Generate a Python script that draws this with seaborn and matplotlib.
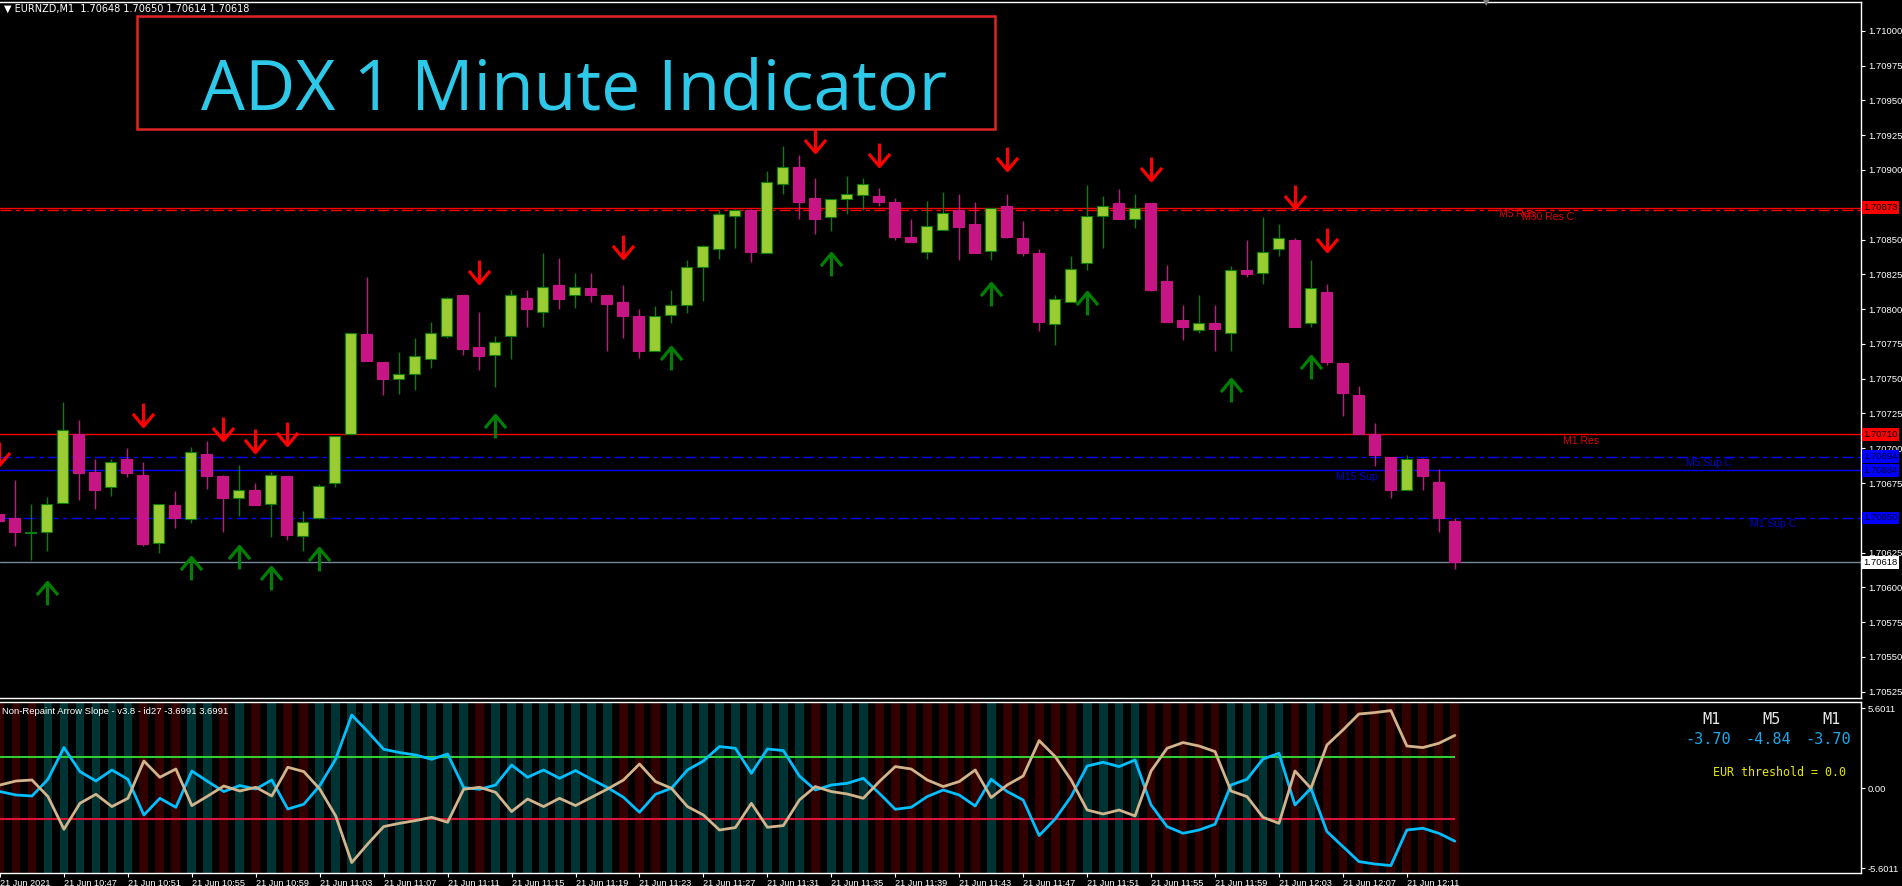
import numpy as np
import pandas as pd
import matplotlib
matplotlib.use('Agg')
import matplotlib.pyplot as plt
import matplotlib.transforms as mtransforms
from matplotlib.path import Path
from matplotlib.patches import Rectangle
import seaborn as sns

# EURNZD M1 candles, 21 Jun 2021 10:43 -> 12:14
opens = [1.70653, 1.70650, 1.70639, 1.70640, 1.70661, 1.70710, 1.70683, 1.70672, 1.70692, 1.70681,
         1.70632, 1.70659, 1.70649, 1.70696, 1.70680, 1.70664, 1.70670, 1.70660, 1.70680, 1.70637,
         1.70650, 1.70675, 1.70710, 1.70782, 1.70762, 1.70750, 1.70753, 1.70764, 1.70781, 1.70810,
         1.70773, 1.70767, 1.70781, 1.70808, 1.70798, 1.70817, 1.70810, 1.70815, 1.70810, 1.70805,
         1.70795, 1.70770, 1.70796, 1.70803, 1.70830, 1.70843, 1.70867, 1.70871, 1.70840, 1.70890,
         1.70902, 1.70880, 1.70866, 1.70879, 1.70882, 1.70881, 1.70877, 1.70852, 1.70841, 1.70857,
         1.70871, 1.70861, 1.70842, 1.70874, 1.70851, 1.70840, 1.70789, 1.70805, 1.70833, 1.70867,
         1.70876, 1.70865, 1.70876, 1.70820, 1.70792, 1.70785, 1.70790, 1.70783, 1.70828, 1.70826,
         1.70843, 1.70850, 1.70790, 1.70812, 1.70761, 1.70738, 1.70710, 1.70694, 1.70670, 1.70692,
         1.70676, 1.70648]
highs = [1.70654, 1.70677, 1.70660, 1.70665, 1.70733, 1.70720, 1.70692, 1.70692, 1.70700, 1.70690,
         1.70660, 1.70669, 1.70701, 1.70705, 1.70681, 1.70688, 1.70675, 1.70683, 1.70680, 1.70655,
         1.70674, 1.70709, 1.70783, 1.70823, 1.70762, 1.70769, 1.70779, 1.70791, 1.70809, 1.70810,
         1.70798, 1.70781, 1.70814, 1.70814, 1.70840, 1.70837, 1.70826, 1.70826, 1.70810, 1.70817,
         1.70800, 1.70802, 1.70814, 1.70835, 1.70846, 1.70871, 1.70872, 1.70872, 1.70899, 1.70917,
         1.70911, 1.70894, 1.70879, 1.70896, 1.70894, 1.70887, 1.70880, 1.70865, 1.70878, 1.70884,
         1.70883, 1.70877, 1.70873, 1.70883, 1.70863, 1.70843, 1.70810, 1.70838, 1.70889, 1.70881,
         1.70886, 1.70883, 1.70876, 1.70832, 1.70803, 1.70810, 1.70803, 1.70831, 1.70850, 1.70866,
         1.70861, 1.70851, 1.70835, 1.70818, 1.70761, 1.70745, 1.70718, 1.70694, 1.70695, 1.70693,
         1.70685, 1.70650]
lows = [1.70646, 1.70630, 1.70620, 1.70626, 1.70661, 1.70663, 1.70656, 1.70666, 1.70679, 1.70630,
        1.70625, 1.70643, 1.70646, 1.70671, 1.70640, 1.70651, 1.70659, 1.70636, 1.70634, 1.70626,
        1.70649, 1.70672, 1.70710, 1.70763, 1.70738, 1.70739, 1.70742, 1.70758, 1.70779, 1.70767,
        1.70756, 1.70744, 1.70764, 1.70787, 1.70787, 1.70800, 1.70801, 1.70805, 1.70770, 1.70779,
        1.70765, 1.70770, 1.70790, 1.70797, 1.70806, 1.70836, 1.70844, 1.70834, 1.70840, 1.70883,
        1.70865, 1.70854, 1.70856, 1.70868, 1.70871, 1.70874, 1.70850, 1.70848, 1.70836, 1.70857,
        1.70835, 1.70840, 1.70835, 1.70851, 1.70838, 1.70784, 1.70774, 1.70805, 1.70828, 1.70844,
        1.70865, 1.70858, 1.70813, 1.70791, 1.70778, 1.70783, 1.70770, 1.70770, 1.70823, 1.70818,
        1.70838, 1.70787, 1.70787, 1.70760, 1.70723, 1.70710, 1.70687, 1.70664, 1.70670, 1.70670,
        1.70640, 1.70613]
closes = [1.70648, 1.70640, 1.70640, 1.70660, 1.70713, 1.70682, 1.70670, 1.70690, 1.70682, 1.70631,
          1.70660, 1.70650, 1.70697, 1.70680, 1.70664, 1.70670, 1.70659, 1.70681, 1.70638, 1.70647,
          1.70673, 1.70709, 1.70783, 1.70763, 1.70750, 1.70753, 1.70766, 1.70783, 1.70808, 1.70771,
          1.70766, 1.70776, 1.70810, 1.70800, 1.70816, 1.70807, 1.70816, 1.70810, 1.70804, 1.70795,
          1.70770, 1.70795, 1.70803, 1.70830, 1.70845, 1.70868, 1.70871, 1.70841, 1.70891, 1.70902,
          1.70877, 1.70865, 1.70879, 1.70883, 1.70890, 1.70877, 1.70852, 1.70848, 1.70860, 1.70869,
          1.70859, 1.70840, 1.70873, 1.70852, 1.70840, 1.70791, 1.70807, 1.70829, 1.70867, 1.70874,
          1.70865, 1.70873, 1.70814, 1.70791, 1.70787, 1.70790, 1.70786, 1.70828, 1.70825, 1.70841,
          1.70851, 1.70787, 1.70815, 1.70762, 1.70740, 1.70710, 1.70695, 1.70670, 1.70692, 1.70680,
          1.70650, 1.70618]

# signal arrows: bar index and arrow tip price
sell_bars = [0, 9, 14, 16, 18, 30, 39, 51, 55, 63, 72, 81, 83]
sell_tips = [1.70688, 1.70716, 1.70706, 1.70697, 1.70702, 1.70819, 1.70837, 1.70913, 1.70903,
             1.70900, 1.70893, 1.70873, 1.70842]
buy_bars = [3, 12, 15, 17, 20, 31, 42, 52, 62, 68, 77, 82]
buy_tips = [1.70604, 1.70622, 1.70630, 1.70615, 1.70628, 1.70724, 1.70773, 1.70840, 1.70819,
            1.70812, 1.70750, 1.70766]

# support / resistance levels
level_names = ['M5 Res', 'M30 Res C', 'M1 Res', 'M5 Sup C', 'M15 Sup', 'M1 Sup C']
level_prices = [1.70873, 1.70871, 1.70710, 1.70694, 1.70684, 1.70650]
level_kinds = ['res', 'res', 'res', 'sup', 'sup', 'sup']
level_confirmed = [False, True, False, True, False, True]
bid_price = 1.70618

# indicator panel (Non-Repaint Arrow Slope): EUR (blue) and NZD (tan)
eur_slope = [-0.23, -0.47, -0.54, 0.63, 2.85, 1.17, 0.51, 1.28, 0.63, -1.87,
             -0.70, -1.33, 1.21, 0.47, -0.23, 0.19, -0.05, 0.58, -1.45, -1.12,
             0.19, 2.05, 5.13, 3.97, 2.73, 2.50, 2.33, 2.03, 2.40, 0.05,
             -0.07, 0.23, 1.63, 0.77, 1.28, 0.70, 1.24, 0.63, 0.05, -0.63,
             -1.68, -0.42, 0.00, 1.28, 1.91, 2.92, 2.80, 1.05, 2.75, 2.64,
             0.86, -0.12, 0.23, 0.35, 0.70, -0.35, -1.47, -1.33, -0.58, -0.12,
             -0.47, -1.24, 0.63, -0.23, -0.82, -3.31, -2.15, -0.58, 1.56, 1.82,
             1.52, 1.98, -1.17, -2.68, -3.15, -2.92, -2.52, 0.23, 0.63, 2.05,
             2.45, -1.17, 0.00, -3.03, -4.08, -5.13, -5.30, -5.41, -2.92, -2.80,
             -3.15, -3.70]
nzd_slope = [0.23, 0.51, 0.58, -0.58, -2.87, -1.05, -0.42, -1.28, -0.70, 1.91,
             0.77, 1.35, -1.21, -0.54, 0.16, -0.19, 0.07, -0.54, 1.47, 1.17,
             -0.05, -1.94, -5.20, -3.90, -2.68, -2.45, -2.26, -2.03, -2.38, -0.07,
             0.07, -0.28, -1.63, -0.75, -1.28, -0.70, -1.21, -0.63, -0.05, 0.58,
             1.70, 0.47, 0.00, -1.28, -1.87, -2.92, -2.75, -1.05, -2.73, -2.61,
             -0.82, 0.12, -0.23, -0.40, -0.70, 0.47, 1.52, 1.35, 0.58, 0.12,
             0.47, 1.28, -0.65, 0.23, 0.86, 3.34, 2.22, 0.58, -1.52, -1.80,
             -1.52, -1.94, 1.21, 2.80, 3.20, 2.96, 2.57, -0.19, -0.58, -2.03,
             -2.45, 1.21, 0.00, 3.03, 4.08, 5.20, 5.30, 5.44, 2.96, 2.85,
             3.15, 3.70]
upper_level = 2.2
lower_level = -2.13
panel_max = 5.6011

tf_names = ['M1', 'M5', 'M1']
tf_values = [-3.70, -4.84, -3.70]

times = pd.date_range('2021-06-21 10:43', periods=len(closes), freq='min')

# ---------------------------------------------------------------
sns.set_theme(style='dark', rc={'axes.facecolor': 'black', 'figure.facecolor': 'black',
                                'axes.edgecolor': 'white', 'axes.grid': False,
                                'text.color': 'white'})
plt.rcParams['font.family'] = ['Liberation Sans', 'DejaVu Sans']

W, H = 1902, 886
fig = plt.figure(figsize=(W / 100, H / 100), dpi=100)
fig.patch.set_facecolor('black')

ax = fig.add_axes([0, 1 - 698 / H, 1861 / W, 696 / H])
ax2 = fig.add_axes([0, 1 - 873 / H, 1861 / W, 171 / H])

o = np.array(opens); h = np.array(highs); l = np.array(lows); c = np.array(closes)
x = np.arange(len(c))
bull = c >= o

bull_fill, bull_edge, bear_col = '#9ACD32', '#0A7D0A', '#C71585'
wick_cols = np.where(bull, bull_edge, bear_col)
ax.vlines(x, l, h, colors=wick_cols, lw=1.0, zorder=3)
body_h = np.maximum(np.abs(c - o), 0.000006)
ax.bar(x, body_h, bottom=np.minimum(o, c), width=0.66,
       color=np.where(bull, bull_fill, bear_col),
       edgecolor=np.where(bull, bull_edge, bear_col), linewidth=0.8, zorder=4)

# levels
label_x = [93.8, 95.2, 97.8, 105.5, 83.6, 109.5]
for name, p, kind, conf, lx in zip(level_names, level_prices, level_kinds, level_confirmed, label_x):
    col = '#FF0000' if kind == 'res' else '#0000FF'
    ls = (0, (8, 3, 3, 3)) if conf else '-'
    ax.axhline(p, color=col, lw=1.0, ls=ls, zorder=2)
    ax.text(lx, p - 0.000012, name, color='#E00000' if kind == 'res' else '#0000CD',
            fontsize=7.5, va='top', ha='left', zorder=5)
ax.axhline(bid_price, color='#778899', lw=1.0, zorder=2)

# arrows
up_path = Path([(0, -1), (0, 0), (-0.46, -0.55), (0, 0), (0.46, -0.55)],
               [Path.MOVETO, Path.LINETO, Path.MOVETO, Path.LINETO, Path.LINETO])
down_path = Path([(0, 1), (0, 0), (-0.46, 0.55), (0, 0), (0.46, 0.55)],
                 [Path.MOVETO, Path.LINETO, Path.MOVETO, Path.LINETO, Path.LINETO])
ax.plot(buy_bars, buy_tips, ls='none', marker=up_path, ms=33, mfc='none',
        mec='#008000', mew=2.3, zorder=6)
ax.plot(sell_bars, sell_tips, ls='none', marker=down_path, ms=33, mfc='none',
        mec='#FF0000', mew=2.3, zorder=6)

xlim = (1.5 / 16, (1861 + 1.5) / 16)
ax.set_xlim(*xlim)
ax.set_ylim(1.705205, 1.710207)
ax.set_xticks([])
price_ticks = [t for t in np.round(np.arange(1.70525, 1.71001, 0.00025), 5)
               if t not in (1.70875, 1.70650)]
ax.set_yticks(price_ticks)
ax.set_yticklabels([f'{t:.5f}' for t in price_ticks])
ax.yaxis.tick_right()
ax.tick_params(axis='y', colors='white', length=3, width=0.8, labelsize=6.8, pad=2)
for s in ['top', 'right', 'bottom']:
    ax.spines[s].set_color('white')
    ax.spines[s].set_linewidth(1.0)
ax.spines['left'].set_visible(False)

# price boxes on the axis
trans = mtransforms.blended_transform_factory(ax.transAxes, ax.transData)
box_specs = [(level_prices[0], '#FF0000', 'black'), (level_prices[2], '#FF0000', 'black'),
             (level_prices[3], '#0000FF', '#000030'), (level_prices[4], '#0000FF', '#000030'),
             (level_prices[5], '#0000FF', '#000030'), (bid_price, 'white', 'black')]
for p, fc, tc in box_specs:
    ax.text(1.0012, p, f'{p:.5f}', transform=trans, fontsize=6.8, color=tc, ha='left',
            va='center', clip_on=False, zorder=10,
            bbox=dict(boxstyle='square,pad=0.18', fc=fc, ec='none'))

# ---------------- indicator panel
ylo, yhi = -5.93, 6.04
stripe_cols = np.where(np.array(eur_slope) >= np.array(nzd_slope), '#003333', '#330000')
ax2.bar(x, yhi - ylo, bottom=ylo, width=0.55, color=stripe_cols, edgecolor='none',
        linewidth=0, zorder=0)
ax2.hlines([upper_level], x[0], x[-1], color='#32CD32', lw=1.5, zorder=2)
ax2.hlines([lower_level], x[0], x[-1], color='#DC143C', lw=1.5, zorder=2)
sns.lineplot(x=x, y=eur_slope, color='#00BFFF', lw=2.0, ax=ax2, zorder=3)
sns.lineplot(x=x, y=nzd_slope, color='#D2B48C', lw=2.0, ax=ax2, zorder=3)
ax2.set_xlim(*xlim)
ax2.set_ylim(ylo, yhi)
ax2.set_yticks([panel_max, 0, -panel_max])
ax2.set_yticklabels([f'{panel_max:.4f}', '0.00', f'-{panel_max:.4f}'])
ax2.yaxis.tick_right()
ax2.tick_params(axis='y', colors='white', length=3, width=0.8, labelsize=6.8, pad=2)
tick_idx = list(range(0, len(x) - 2, 4))
ax2.set_xticks(tick_idx)
ax2.set_xticklabels(['21 Jun 2021' if i == 0 else times[i].strftime('21 Jun %H:%M') for i in tick_idx])
ax2.tick_params(axis='x', colors='white', length=3, width=0.8, labelsize=6.6, pad=1, bottom=True)
for lab in ax2.get_xticklabels():
    lab.set_ha('left')
for s in ['top', 'right', 'bottom']:
    ax2.spines[s].set_color('white')
    ax2.spines[s].set_linewidth(1.0)
ax2.spines['left'].set_visible(False)
ax2.set_xlabel('')
ax2.set_ylabel('')

ax2.text(0.001, 0.97, 'Non-Repaint Arrow Slope - v3.8 - id27 -3.6991 3.6991', transform=ax2.transAxes,
         fontsize=6.8, color='white', ha='left', va='top', zorder=5)

# timeframe readout
mono = ['DejaVu Sans Mono']
for k, (nm, val) in enumerate(zip(tf_names, tf_values)):
    fig.text((1721 + 60 * k) / W, 1 - 719 / H, nm, fontsize=11, color='#E6E6E6',
             family=mono, ha='right', va='center')
    fig.text((1731 + 60 * k) / W, 1 - 740 / H, f'{val:.2f}', fontsize=11, color='#1AA7EC',
             family=mono, ha='right', va='center')
fig.text(1846 / W, 1 - 773 / H, 'EUR threshold = 0.0', fontsize=8.4, color='#E6E600',
         family=mono, ha='right', va='center')

# header and title box
fig.text(4 / W, 1 - 9 / H, '▼ EURNZD,M1  1.70648 1.70650 1.70614 1.70618', fontsize=7,
         color='white', ha='left', va='center', family=['DejaVu Sans'])
fig.text(1486 / W, 1 - 3 / H, '▼', fontsize=6, color='#808080', ha='center', va='center',
         family=['DejaVu Sans'])
fig.patches.append(Rectangle((137 / W, 1 - 129 / H), (995 - 137) / W, 113 / H,
                             transform=fig.transFigure, fill=False, ec='#E02424', lw=1.8))
fig.text(574 / W, 1 - 92 / H, 'ADX 1 Minute Indicator', fontsize=50, color='#2EC8E8',
         ha='center', va='center', family=['Open Sans', 'DejaVu Sans'])

fig.savefig('out.png', dpi=100, facecolor='black')
